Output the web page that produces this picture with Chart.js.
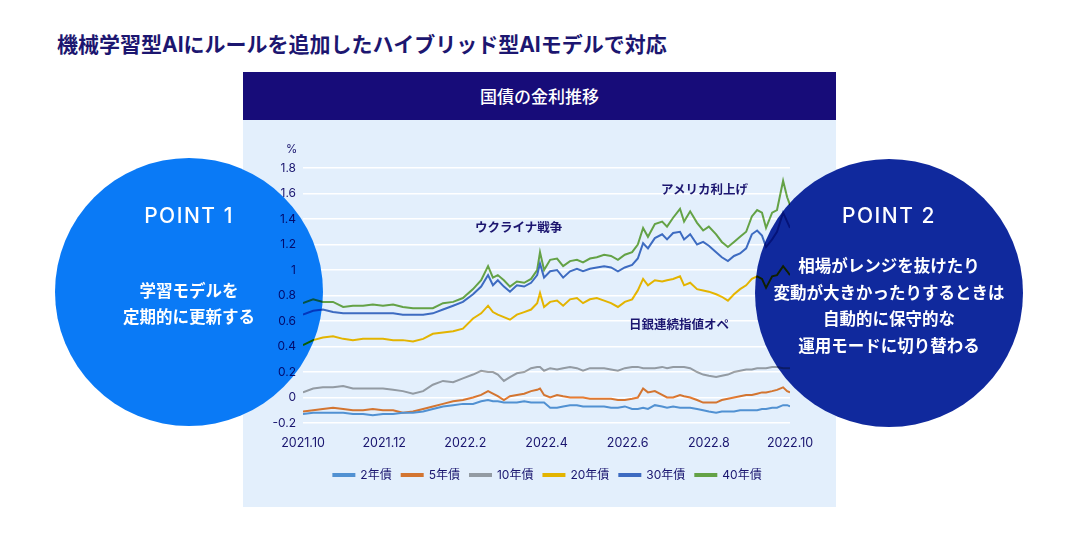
<!DOCTYPE html>
<html lang="ja">
<head>
<meta charset="UTF-8">
<title>国債の金利推移</title>
<script src="https://cdn.jsdelivr.net/npm/chart.js"></script>
<style>
    html, body {
        margin: 0;
        padding: 0;
        background: #ffffff;
        font-family: Inter, "Noto Sans CJK JP", sans-serif;
    }

    #stage {
        position: relative;
        width: 1078px;
        height: 540px;
        overflow: hidden;
        background: #ffffff;
    }

    .title {
        position: absolute;
        left: 57px;
        top: 31px;
        font-size: 21px;
        line-height: 28px;
        font-weight: 700;
        color: #1c1670;
        white-space: nowrap;
    }

    .head {
        position: absolute;
        left: 243px;
        top: 72px;
        width: 593px;
        height: 48px;
        line-height: 50px;
        background: #170c79;
        color: #ffffff;
        text-align: center;
        font-size: 17px;
        font-weight: 500;
    }

    .panel {
        position: absolute;
        left: 243px;
        top: 120px;
        width: 593px;
        height: 387px;
        background: #e3effc;
    }

    .chartbox {
        position: absolute;
        left: 243px;
        top: 120px;
        width: 593px;
        height: 387px;
    }

    /* lines show through the circles darker, like the original */
    .multiply { mix-blend-mode: multiply; }

    .circle {
        position: absolute;
        width: 268px;
        height: 268px;
        border-radius: 50%;
    }
    .c1 { left: 55px; top: 158px; background: #0a7af6; }
    .c2 { left: 755px; top: 159px; background: #10299d; }

    .point {
        position: absolute;
        width: 268px;
        text-align: center;
        color: #ffffff;
        font-size: 21px;
        font-weight: 500;
        letter-spacing: 1.5px;
        line-height: 26px;
    }
    .ptext {
        position: absolute;
        width: 268px;
        text-align: center;
        color: #ffffff;
        font-family: "Noto Sans CJK JP", sans-serif;
        font-size: 16.5px;
        font-weight: 700;
        white-space: nowrap;
    }

    .note {
        position: absolute;
        font-family: "Noto Sans CJK JP", sans-serif;
        font-size: 12.5px;
        font-weight: 700;
        color: #1c1670;
        line-height: 16px;
        white-space: nowrap;
    }

    .unit {
        position: absolute;
        left: 286px;
        top: 142px;
        font-size: 11.5px;
        color: #1c1670;
    }
</style>
</head>
<body>
<div id="stage">
    <div class="title">機械学習型AIにルールを追加したハイブリッド型AIモデルで対応</div>
    <div class="head">国債の金利推移</div>
    <div class="panel"></div>
    <div class="chartbox"><canvas id="gridChart" width="593" height="387"></canvas></div>

    <div class="circle c1"></div>
    <div class="circle c2"></div>

    <div class="chartbox multiply"><canvas id="rateChart" width="593" height="387"></canvas></div>
    <div class="unit multiply">%</div>

    <div class="note" style="left:475px; top:219px;">ウクライナ戦争</div>
    <div class="note" style="left:661px; top:181px;">アメリカ利上げ</div>
    <div class="note" style="left:629px; top:316px;">日銀連続指値オペ</div>

    <div class="point" style="left:55px; top:203px;">POINT 1</div>
    <div class="ptext" style="left:55px; top:277px; line-height:26px;">学習モデルを<br>定期的に更新する</div>

    <div class="point" style="left:755px; top:203px;">POINT 2</div>
    <div class="ptext" style="left:755px; top:252px; line-height:26.5px;">相場がレンジを抜けたり<br>変動が大きかったりするときは<br>自動的に保守的な<br>運用モードに切り替わる</div>
</div>

<script>
    // x position in months from 2021.10
    const months = [0, 0.25, 0.49, 0.74, 0.99, 1.23, 1.48, 1.72, 1.97, 2.22, 2.46, 2.71, 2.96, 3.20, 3.45, 3.70,
        3.94, 4.19, 4.39, 4.56, 4.68, 4.80, 4.95, 5.10, 5.27, 5.45, 5.62, 5.77, 5.84, 5.94, 6.09, 6.26, 6.41,
        6.58, 6.75, 6.90, 7.07, 7.24, 7.42, 7.59, 7.76, 7.93, 8.11, 8.25, 8.38, 8.50, 8.67, 8.85, 8.97, 9.12,
        9.29, 9.39, 9.54, 9.71, 9.86, 10.00, 10.18, 10.32, 10.47, 10.62, 10.77, 10.92, 11.06, 11.19, 11.31,
        11.41, 11.56, 11.68, 11.83, 11.93, 12.00];

    const xTickLabels = ['2021.10', '2021.12', '2022.2', '2022.4', '2022.6', '2022.8', '2022.10'];

    const seriesNames = ['2年債', '5年債', '10年債', '20年債', '30年債', '40年債'];
    const seriesColors = ['#5b9bd5', '#ed7d31', '#a5a5a5', '#ffc000', '#4472c4', '#70ad47'];

    const jgb2y = [-0.13, -0.12, -0.12, -0.12, -0.12, -0.13, -0.13, -0.14, -0.13, -0.13, -0.12, -0.12, -0.11, -0.09, -0.07, -0.06,
        -0.05, -0.05, -0.03, -0.02, -0.03, -0.03, -0.04, -0.04, -0.04, -0.03, -0.04, -0.04, -0.04, -0.04, -0.08, -0.08, -0.07,
        -0.06, -0.06, -0.07, -0.07, -0.07, -0.07, -0.08, -0.08, -0.07, -0.09, -0.09, -0.08, -0.09, -0.06, -0.07, -0.08, -0.07,
        -0.08, -0.08, -0.08, -0.09, -0.10, -0.11, -0.12, -0.11, -0.11, -0.11, -0.10, -0.10, -0.10, -0.10, -0.09,
        -0.09, -0.08, -0.08, -0.06, -0.06, -0.07];

    const jgb5y = [-0.11, -0.10, -0.09, -0.08, -0.09, -0.10, -0.10, -0.09, -0.10, -0.10, -0.12, -0.11, -0.09, -0.07, -0.05, -0.03,
        -0.02, 0.00, 0.02, 0.05, 0.03, 0.01, -0.02, 0.01, 0.02, 0.03, 0.05, 0.06, 0.07, 0.02, 0.00, 0.02, 0.01,
        0.00, 0.00, 0.00, -0.01, -0.01, -0.01, -0.01, -0.02, -0.02, -0.01, 0.00, 0.07, 0.04, 0.05, 0.02, 0.00, 0.00,
        0.02, 0.01, 0.00, -0.02, -0.04, -0.04, -0.04, -0.02, -0.01, 0.00, 0.01, 0.02, 0.02, 0.03, 0.04,
        0.04, 0.05, 0.06, 0.08, 0.05, 0.04];

    const jgb10y = [0.04, 0.07, 0.08, 0.08, 0.09, 0.07, 0.07, 0.07, 0.07, 0.06, 0.05, 0.03, 0.05, 0.10, 0.13, 0.12,
        0.15, 0.18, 0.21, 0.20, 0.20, 0.18, 0.13, 0.16, 0.19, 0.20, 0.23, 0.24, 0.24, 0.21, 0.23, 0.22, 0.23,
        0.24, 0.23, 0.21, 0.23, 0.23, 0.23, 0.22, 0.21, 0.23, 0.24, 0.24, 0.23, 0.23, 0.23, 0.24, 0.23, 0.24,
        0.24, 0.24, 0.23, 0.20, 0.18, 0.17, 0.16, 0.17, 0.18, 0.20, 0.21, 0.22, 0.22, 0.23, 0.23,
        0.23, 0.24, 0.24, 0.23, 0.23, 0.23];

    const jgb20y = [0.41, 0.45, 0.47, 0.48, 0.46, 0.45, 0.46, 0.46, 0.46, 0.45, 0.45, 0.44, 0.46, 0.50, 0.51, 0.52,
        0.54, 0.62, 0.66, 0.72, 0.67, 0.65, 0.63, 0.61, 0.65, 0.67, 0.69, 0.74, 0.82, 0.71, 0.75, 0.76, 0.72,
        0.77, 0.78, 0.74, 0.77, 0.78, 0.76, 0.74, 0.71, 0.75, 0.77, 0.84, 0.93, 0.88, 0.92, 0.91, 0.92, 0.93,
        0.95, 0.88, 0.90, 0.85, 0.84, 0.83, 0.81, 0.79, 0.76, 0.81, 0.85, 0.88, 0.93, 0.95, 0.93,
        0.86, 0.95, 0.96, 1.03, 0.99, 0.96];

    const jgb30y = [0.65, 0.68, 0.69, 0.67, 0.66, 0.66, 0.66, 0.66, 0.66, 0.66, 0.65, 0.65, 0.65, 0.66, 0.69, 0.72,
        0.75, 0.81, 0.87, 0.96, 0.88, 0.92, 0.87, 0.83, 0.88, 0.87, 0.90, 0.96, 1.05, 0.94, 0.99, 1.00, 0.94,
        0.99, 1.01, 0.99, 1.01, 1.02, 1.03, 1.02, 0.99, 1.02, 1.04, 1.09, 1.21, 1.17, 1.25, 1.28, 1.24, 1.29,
        1.30, 1.24, 1.28, 1.20, 1.22, 1.19, 1.14, 1.10, 1.07, 1.11, 1.13, 1.17, 1.28, 1.31, 1.27,
        1.18, 1.24, 1.30, 1.45, 1.38, 1.33];

    const jgb40y = [0.74, 0.77, 0.75, 0.75, 0.71, 0.72, 0.72, 0.73, 0.72, 0.73, 0.71, 0.70, 0.70, 0.70, 0.74, 0.75,
        0.78, 0.85, 0.92, 1.03, 0.94, 0.96, 0.92, 0.87, 0.91, 0.90, 0.93, 1.00, 1.14, 1.00, 1.08, 1.09, 1.03,
        1.07, 1.08, 1.06, 1.09, 1.10, 1.12, 1.11, 1.08, 1.12, 1.14, 1.20, 1.33, 1.26, 1.36, 1.38, 1.34, 1.41,
        1.48, 1.38, 1.46, 1.37, 1.31, 1.34, 1.28, 1.22, 1.18, 1.22, 1.26, 1.30, 1.42, 1.47, 1.45,
        1.33, 1.45, 1.47, 1.70, 1.57, 1.51];

    const seriesValues = [jgb2y, jgb5y, jgb10y, jgb20y, jgb30y, jgb40y];

    const navy = '#1c1670';
    const latinFont = 'Inter, "Noto Sans CJK JP", sans-serif';

    // gridOnly = the white grid under the circles, otherwise the lines + texts above them
    function buildConfig(gridOnly) {
        const datasets = seriesNames.map((name, i) => ({
            label: name,
            data: months.map((m, j) => ({ x: m, y: seriesValues[i][j] })),
            borderColor: gridOnly ? 'transparent' : seriesColors[i],
            backgroundColor: gridOnly ? 'transparent' : seriesColors[i],
            borderWidth: 2,
            pointRadius: 0,
            tension: 0
        }));

        return {
            type: 'line',
            data: { datasets: datasets },
            options: {
                responsive: false,
                animation: false,
                events: [],
                layout: { padding: { top: 48, right: 46, bottom: 16, left: 0 } },
                scales: {
                    x: {
                        type: 'linear',
                        min: 0,
                        max: 12,
                        afterFit: (s) => { s.height = 36; },
                        grid: { display: false, drawTicks: false },
                        border: { display: false },
                        ticks: {
                            stepSize: 2,
                            padding: 13,
                            maxRotation: 0,
                            color: gridOnly ? 'transparent' : navy,
                            font: { family: latinFont, size: 12.5 },
                            callback: (v) => xTickLabels[v / 2]
                        }
                    },
                    y: {
                        min: -0.2,
                        max: 1.8,
                        afterFit: (s) => { s.width = 60; },
                        grid: {
                            display: gridOnly,
                            color: '#ffffff',
                            lineWidth: 1.6,
                            drawTicks: false
                        },
                        border: { display: false },
                        ticks: {
                            stepSize: 0.2,
                            padding: 7,
                            color: gridOnly ? 'transparent' : navy,
                            font: { family: latinFont, size: 12 },
                            callback: (v) => String(+v.toFixed(1))
                        }
                    }
                },
                plugins: {
                    legend: {
                        position: 'bottom',
                        labels: {
                            boxWidth: 21,
                            boxHeight: 2,
                            padding: 10,
                            color: gridOnly ? 'transparent' : navy,
                            font: { family: latinFont, size: 12 }
                        }
                    },
                    tooltip: { enabled: false }
                }
            },
            plugins: [{
                id: 'legendShift',
                afterLayout(chart) {
                    chart.legend.left += 31;
                    chart.legend.right += 31;
                }
            }]
        };
    }

    new Chart(document.getElementById('gridChart'), buildConfig(true));
    new Chart(document.getElementById('rateChart'), buildConfig(false));
</script>
</body>
</html>
